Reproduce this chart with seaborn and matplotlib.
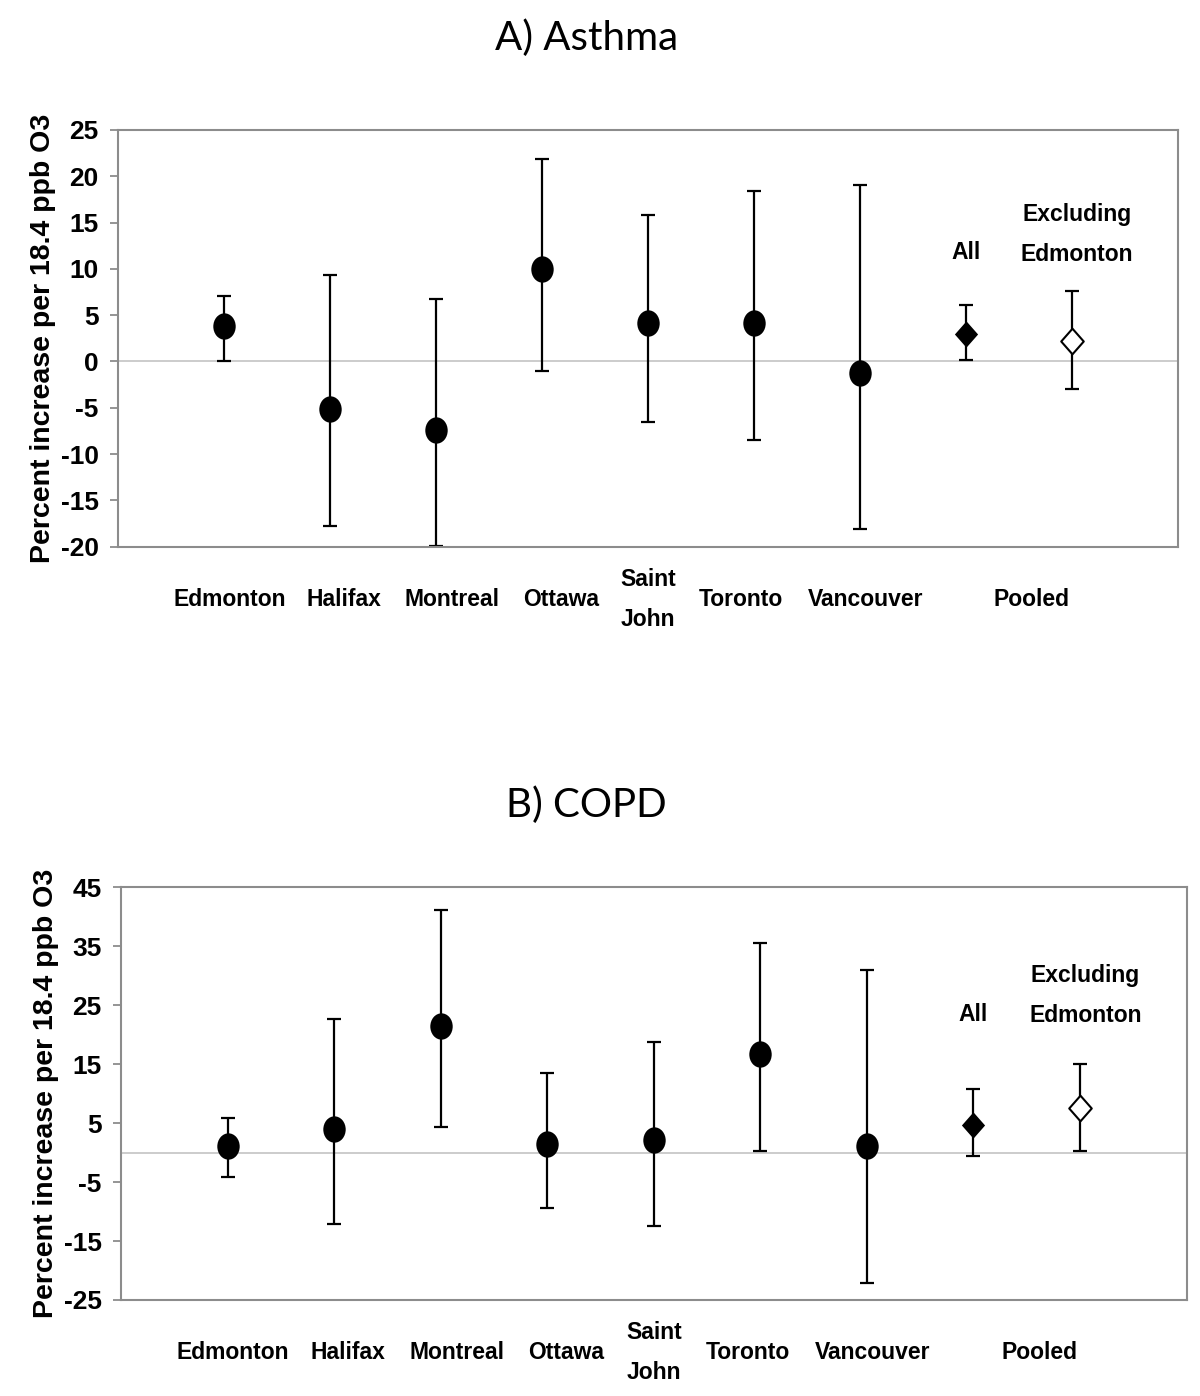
import numpy as np
import seaborn as sns
import matplotlib.pyplot as plt
from matplotlib import font_manager
from matplotlib.path import Path
from matplotlib.transforms import Affine2D

# estimates and 95% CI
cities = ["Edmonton", "Halifax", "Montreal", "Ottawa", "Saint\nJohn",
          "Toronto", "Vancouver", "Pooled"]
pooled_names = ["All", "Excluding\nEdmonton"]

asthma_est = [3.8, -5.1, -7.4, 10.0, 4.2, 4.2, -1.2, 3.0, 2.2]
asthma_lo = [0.0, -17.8, -19.9, -1.0, -6.5, -8.5, -18.1, 0.2, -3.0]
asthma_hi = [7.1, 9.3, 6.7, 21.9, 15.8, 18.4, 19.1, 6.1, 7.6]

copd_est = [1.1, 4.0, 21.5, 1.4, 2.1, 16.8, 1.1, 4.7, 7.6]
copd_lo = [-4.1, -12.1, 4.4, -9.4, -12.5, 0.3, -22.2, -0.6, 0.3]
copd_hi = [5.9, 22.6, 41.1, 13.5, 18.8, 35.5, 31.0, 10.8, 15.1]

asthma_ticks = [-20, -15, -10, -5, 0, 5, 10, 15, 20, 25]
copd_ticks = [-25, -15, -5, 5, 15, 25, 35, 45]

sns.set_theme(style="white")
names = {f.name for f in font_manager.fontManager.ttflist}
narrow = "Liberation Sans Narrow" if "Liberation Sans Narrow" in names else "Liberation Sans"
plt.rcParams["font.family"] = [narrow, "DejaVu Sans"]
plt.rcParams["text.color"] = "black"
plt.rcParams["axes.labelcolor"] = "black"

ellipse = Path.unit_circle().transformed(Affine2D().scale(0.85, 1.0))
diamond = Path([(0, 1), (0.88, 0), (0, -1), (-0.88, 0), (0, 1)],
               [Path.MOVETO, Path.LINETO, Path.LINETO, Path.LINETO, Path.CLOSEPOLY])

fig = plt.figure(figsize=(12, 13.96), dpi=100)
lab_size = 16.5


def panel(ax, est, lo, hi, ticks, title, title_y, lab_y):
    est = np.array(est)
    x = np.arange(1, len(est) + 1)
    err = [est - np.array(lo), np.array(hi) - est]
    ax.axhline(0, color="#c8c8c8", lw=1.3, zorder=1)
    ax.errorbar(x, est, yerr=err, fmt="none", ecolor="black", elinewidth=1.6,
                capsize=4.8, capthick=1.6, zorder=2)
    sns.scatterplot(x=x[:7], y=est[:7], marker=ellipse, s=360, color="black",
                    edgecolor="black", linewidth=0, ax=ax, zorder=3)
    sns.scatterplot(x=x[7:8], y=est[7:8], marker=diamond, s=360, color="black",
                    edgecolor="black", linewidth=0, ax=ax, zorder=3)
    sns.scatterplot(x=x[8:9], y=est[8:9], marker=diamond, s=340, color="white",
                    edgecolor="black", linewidth=1.5, ax=ax, zorder=3)

    ax.set_xlim(0, 10)
    ax.set_ylim(ticks[0], ticks[-1])
    ax.set_yticks(ticks)
    ax.set_yticklabels([str(t) for t in ticks], fontsize=19, fontweight="bold")
    ax.tick_params(axis="y", left=True, length=6, width=1.3, color="#8c8c8c",
                   labelcolor="black", pad=8)
    ax.set_xticks([1.05, 2.13, 3.15, 4.18, 5.0, 5.88, 7.05, 8.62])
    ax.set_xticklabels(cities, fontsize=lab_size, fontweight="bold", linespacing=1.95)
    ax.tick_params(axis="x", bottom=False, length=0, pad=38, labelcolor="black")
    plt.setp(ax.get_xticklabels(), va="center")
    for s in ax.spines.values():
        s.set_color("#8c8c8c")
        s.set_linewidth(1.5)
    ax.set_ylabel("Percent increase per 18.4 ppb O3", fontsize=20.5, fontweight="bold",
                  family=["Liberation Sans", "DejaVu Sans"], labelpad=3)
    ax.set_xlabel("")

    ax.text(8, lab_y[0], pooled_names[0], ha="center", va="center",
            fontsize=lab_size, fontweight="bold")
    ax.text(9.05, lab_y[1], pooled_names[1], ha="center", va="center",
            fontsize=lab_size, fontweight="bold", linespacing=1.95)
    fig.text(0.489, title_y, title, ha="center", va="center", fontsize=29,
             family=["Lato", "DejaVu Sans"])


ax1 = fig.add_axes([0.0983, 0.6084, 0.8833, 0.2985])
panel(ax1, asthma_est, asthma_lo, asthma_hi, asthma_ticks, "A) Asthma", 0.9728,
      (11.8, 13.7))

ax2 = fig.add_axes([0.1008, 0.0688, 0.888, 0.2956])
panel(ax2, copd_est, copd_lo, copd_hi, copd_ticks, "B) COPD", 0.4233,
      (23.5, 26.6))

fig.savefig("out.png", dpi=100, facecolor="white")
